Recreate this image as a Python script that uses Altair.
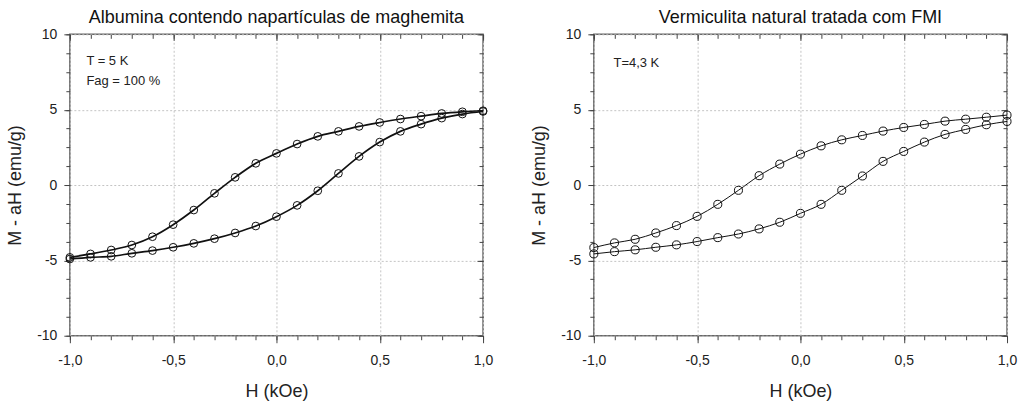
import altair as alt
import pandas as pd

# ---------------- data ----------------
H = [-1.0, -0.9, -0.8, -0.7, -0.6, -0.5, -0.4, -0.3, -0.2, -0.1, 0.0,
     0.1, 0.2, 0.3, 0.4, 0.5, 0.6, 0.7, 0.8, 0.9, 1.0]

alb_upper = [-4.80, -4.57, -4.31, -3.98, -3.43, -2.63, -1.66, -0.55, 0.51, 1.44, 2.10,
             2.72, 3.23, 3.56, 3.89, 4.15, 4.38, 4.57, 4.75, 4.86, 4.93]
alb_lower = [-4.91, -4.80, -4.73, -4.53, -4.35, -4.13, -3.87, -3.56, -3.18, -2.72, -2.10,
             -1.35, -0.38, 0.77, 1.90, 2.85, 3.56, 4.04, 4.44, 4.71, 4.88]

ver_upper = [-4.15, -3.84, -3.60, -3.18, -2.69, -2.08, -1.28, -0.35, 0.62, 1.39, 2.05,
             2.60, 3.00, 3.29, 3.58, 3.82, 4.02, 4.24, 4.37, 4.50, 4.64]
ver_lower = [-4.57, -4.42, -4.30, -4.13, -3.97, -3.75, -3.49, -3.25, -2.91, -2.47, -1.88,
             -1.28, -0.35, 0.60, 1.57, 2.23, 2.85, 3.36, 3.69, 4.00, 4.22]

titles = ["Albumina contendo napart\u00edculas de maghemita",
          "Vermiculita natural tratada com FMI"]

alb_notes = ["T = 5 K", "Fag = 100 %"]
alb_note_x = [-0.92, -0.92]
alb_note_y = [8.2, 6.9]
ver_notes = ["T=4,3 K"]
ver_note_x = [-0.905]
ver_note_y = [8.1]

x_major = [-1.0, -0.5, 0.0, 0.5, 1.0]
x_minor = [round(-1.0 + 0.1 * i, 1) for i in range(21)]
y_major = [-10, -5, 0, 5, 10]
y_minor = [-10 + 1.25 * i for i in range(17)]

X_AXIS_TITLE = "H (kOe)"
Y_AXIS_TITLE = "M - aH (emu/g)"

# ---------------- style ----------------
FONT = "Liberation Sans"
W, HGT = 414, 302
TICK = "#444444"
XLAB = "replace(replace(format(datum.value, '.1f'), '.', ','), '\u2212', '-')"
YLAB = "replace(format(datum.value, 'd'), '\u2212', '-')"


def make_panel(upper, lower, title, notes, nx, ny, lw, psize):
    df = pd.DataFrame({
        "H": H + H,
        "M": upper + lower,
        "branch": ["up"] * len(H) + ["down"] * len(H),
    })
    notes_df = pd.DataFrame({"H": nx, "M": ny, "txt": notes})

    xs = alt.Scale(domain=[-1, 1], nice=False, zero=False)
    ys = alt.Scale(domain=[-10, 10], nice=False, zero=False)

    common_axis = dict(domain=False, tickColor=TICK, tickWidth=1,
                       labelFont=FONT, titleFont=FONT, labelColor="#222222",
                       titleColor="#222222", titleFontWeight="normal",
                       labelFlush=False, labelOverlap=False)

    ax_x_main = alt.Axis(orient="bottom", values=x_major, labelExpr=XLAB, tickSize=7,
                         labelPadding=11, labelFontSize=14, title=X_AXIS_TITLE,
                         titleFontSize=18, titlePadding=15,
                         grid=True, gridColor="#c4c4c4", gridDash=[2, 2], gridWidth=1,
                         **common_axis)
    ax_y_main = alt.Axis(orient="left", values=y_major, labelExpr=YLAB, tickSize=6,
                         labelPadding=7, labelFontSize=14, title=Y_AXIS_TITLE,
                         titleFontSize=18, titlePadding=12,
                         grid=True, gridColor="#c4c4c4", gridDash=[2, 2], gridWidth=1,
                         **common_axis)
    ax_x_minor = alt.Axis(orient="bottom", values=x_minor, tickSize=4, labels=False,
                          title=None, grid=False, **common_axis)
    ax_y_minor = alt.Axis(orient="left", values=y_minor, tickSize=4, labels=False,
                          title=None, grid=False, **common_axis)
    ax_x_top = alt.Axis(orient="bottom", offset=-HGT, values=x_major, tickSize=6,
                        labels=False, title=None, grid=False, **common_axis)
    ax_y_right = alt.Axis(orient="left", offset=-W, values=y_major, tickSize=6,
                          labels=False, title=None, grid=False, **common_axis)
    ax_x_top_minor = alt.Axis(orient="bottom", offset=-HGT, values=x_minor, tickSize=4,
                              labels=False, title=None, grid=False, **common_axis)
    ax_y_right_minor = alt.Axis(orient="left", offset=-W, values=y_minor, tickSize=4,
                                labels=False, title=None, grid=False, **common_axis)

    base = alt.Chart(df)
    lines = base.mark_line(interpolate="monotone", color="#111111", strokeWidth=lw).encode(
        x=alt.X("H:Q", scale=xs, axis=ax_x_main),
        y=alt.Y("M:Q", scale=ys, axis=ax_y_main),
        detail="branch:N",
    )
    points = base.mark_point(shape="circle", filled=False, size=psize, color="#111111",
                             strokeWidth=1, opacity=1).encode(
        x=alt.X("H:Q", scale=xs, axis=ax_x_minor),
        y=alt.Y("M:Q", scale=ys, axis=ax_y_minor),
    )
    ghost1 = base.mark_point(opacity=0).encode(
        x=alt.X("H:Q", scale=xs, axis=ax_x_top),
        y=alt.Y("M:Q", scale=ys, axis=ax_y_right),
    )
    ghost2 = base.mark_point(opacity=0).encode(
        x=alt.X("H:Q", scale=xs, axis=ax_x_top_minor),
        y=alt.Y("M:Q", scale=ys, axis=ax_y_right_minor),
    )
    text = alt.Chart(notes_df).mark_text(align="left", baseline="middle", font=FONT,
                                         fontSize=13, color="#222222").encode(
        x=alt.X("H:Q", scale=xs, axis=None),
        y=alt.Y("M:Q", scale=ys, axis=None),
        text="txt:N",
    )

    return alt.layer(lines, points, ghost1, ghost2, text).resolve_axis(
        x="independent", y="independent"
    ).properties(
        width=W, height=HGT,
        title=alt.TitleParams(title, font=FONT, fontSize=18, fontWeight="normal",
                              color="#111111", offset=0, anchor="middle"),
    )


left = make_panel(alb_upper, alb_lower, titles[0], alb_notes, alb_note_x, alb_note_y, 1.7, 60)
right = make_panel(ver_upper, ver_lower, titles[1], ver_notes, ver_note_x, ver_note_y, 1.0, 65)

chart = alt.hconcat(left, right, spacing=36).properties(
    padding={"left": 6, "right": 0, "top": 8, "bottom": 0},
    background="white",
).configure_view(stroke="#666666", strokeWidth=1.5)

chart.save("out.html", embed_options={"renderer": "svg", "actions": False})
